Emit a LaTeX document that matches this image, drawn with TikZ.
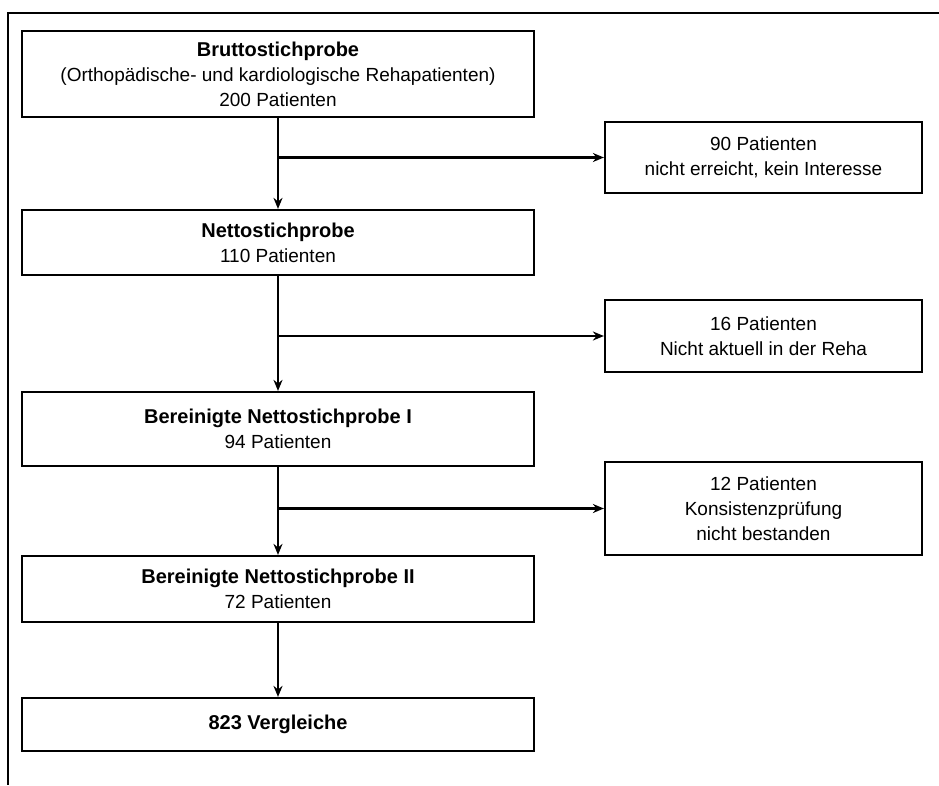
\documentclass[tikz,border=0pt]{standalone}
\usepackage{fontspec}
\setmainfont{Liberation Sans}
\usetikzlibrary{arrows.meta}

\begin{document}
\begin{tikzpicture}[x=1pt,y=-1pt,
  box/.style={draw, line width=2.2pt, inner sep=0pt, align=center,
    font=\fontsize{19}{25}\selectfont},
  mainbox/.style={box, minimum width=512pt},
  sidebox/.style={box, minimum width=317pt},
  flow/.style={line width=2.4pt, -{Stealth[length=11pt,width=9pt]}},
  frameline/.style={line width=1.8pt}]
\useasboundingbox (0,0) rectangle (939,785);

% page frame: top rule and left rule
\coordinate (frameR) at (939,13);
\coordinate (frameC) at (8,13);
\coordinate (frameB) at (8,785);
\draw[frameline] (frameR) -- (frameC) -- (frameB);

% main column
\node[mainbox, minimum height=86pt] (brutto) at (278,74)
  {{\bfseries\fontsize{20}{25}\selectfont Bruttostichprobe}\\(Orthopädische- und kardiologische Rehapatienten)\\200 Patienten};
\node[mainbox, minimum height=65pt] (netto) at (278,242.5)
  {{\bfseries\fontsize{20}{25}\selectfont Nettostichprobe}\\110 Patienten};
\node[mainbox, minimum height=74pt] (berI) at (278,429)
  {{\bfseries\fontsize{20}{25}\selectfont Bereinigte Nettostichprobe I}\\94 Patienten};
\node[mainbox, minimum height=66pt] (berII) at (278,589)
  {{\bfseries\fontsize{20}{25}\selectfont Bereinigte Nettostichprobe II}\\72 Patienten};
\node[mainbox, minimum height=53pt, font=\bfseries\fontsize{20}{25}\selectfont] (vergl) at (278,724.5)
  {823 Vergleiche};

% exclusions
\node[sidebox, minimum height=71pt] (ex1) at (763.5,157.5)
  {90 Patienten\\nicht erreicht, kein Interesse};
\node[sidebox, minimum height=72pt] (ex2) at (763.5,336)
  {16 Patienten\\Nicht aktuell in der Reha};
\node[sidebox, minimum height=93pt] (ex3) at (763.5,508.5)
  {12 Patienten\\Konsistenzprüfung\\nicht bestanden};

% flow downwards
\draw[flow] (brutto.south) -- (netto.north);
\draw[flow] (netto.south) -- (berI.north);
\draw[flow] (berI.south) -- (berII.north);
\draw[flow] (berII.south) -- (vergl.north);

% branches to the exclusion boxes
\coordinate (j1) at (brutto.south |- ex1.west);
\coordinate (j2) at (netto.south |- ex2.west);
\coordinate (j3) at (berI.south |- ex3.west);
\draw[flow] (j1) -- (ex1.west);
\draw[flow] (j2) -- (ex2.west);
\draw[flow] (j3) -- (ex3.west);
\end{tikzpicture}
\end{document}
